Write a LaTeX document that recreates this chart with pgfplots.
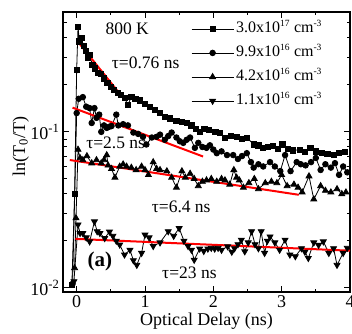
\documentclass[border=0pt]{standalone}
\usepackage{fontspec}
\setmainfont{Liberation Serif}
\usepackage{pgfplots}
\pgfplotsset{compat=1.18}
\newcommand{\sups}[1]{\textsuperscript{\fontsize{9.5}{10}\selectfont #1}}
\begin{document}
\begin{tikzpicture}
\begin{axis}[
  at={(0,0)}, anchor=south west,
  scale only axis, width=287pt, height=280pt,
  ymode=log, xmin=-0.2, xmax=4, ymin=0.0094, ymax=0.587,
  xtick={0,1,2,3,4}, minor xtick={0.5,1.5,2.5,3.5},
  ytick={0.01,0.1}, yticklabels={10\textsuperscript{-2},10\textsuperscript{-1}},
  minor ytick={0.02,0.03,0.04,0.05,0.06,0.07,0.08,0.09,0.2,0.3,0.4,0.5},
  /pgf/number format/assume math mode=true,
  font=\fontsize{18}{21}\selectfont,
  ticklabel style={font=\fontsize{18}{21}\selectfont},
  xlabel={Optical Delay (ns)}, ylabel={ln(T\textsubscript{0}/T)},
  xlabel style={at={(axis description cs:0.5,-0.118)}, anchor=base},
  ylabel style={at={(axis description cs:-0.132,0.521)}, anchor=base},
  axis line style={line width=1.2pt},
  major tick length=6pt, minor tick length=3.5pt,
  every tick/.style={line width=1pt, black},
  legend cell align=left,
  legend style={draw=none, fill=none, at={(axis description cs:0.91,0.976)}, anchor=north east,
    inner sep=0pt, font=\fontsize{16}{18}\selectfont,
    nodes={inner xsep=2pt, inner ysep=2.5pt, text height=11pt, text depth=4pt},
    /tikz/row sep=4pt},
  legend image code/.code={\draw[#1] (0pt,0pt) -- (42pt,0pt); \draw[#1,only marks] plot coordinates {(21pt,0pt)};},
]
% series 1: squares
\addplot[black, line width=0.8pt, mark=square*, mark size=2.6pt] coordinates {
(-0.07,0.0105) (-0.03,0.040) (0.00,0.25) (0.02,0.47) (0.04,0.38) (0.07,0.40) (0.10,0.355)
(0.13,0.33) (0.16,0.30) (0.19,0.31) (0.23,0.27) (0.27,0.255) (0.31,0.24) (0.35,0.235)
(0.40,0.22) (0.45,0.205) (0.50,0.195) (0.55,0.185) (0.60,0.178) (0.65,0.172) (0.70,0.165)
(0.75,0.149) (0.80,0.168) (0.86,0.162) (0.92,0.159) (1.00,0.152) (1.07,0.145) (1.14,0.138)
(1.22,0.132) (1.29,0.125) (1.37,0.122) (1.46,0.118) (1.54,0.116) (1.61,0.114) (1.68,0.110)
(1.75,0.104) (1.80,0.100) (1.87,0.104) (1.93,0.103) (2.03,0.100) (2.10,0.098) (2.17,0.092)
(2.26,0.094) (2.35,0.093) (2.42,0.090) (2.49,0.092) (2.59,0.083) (2.66,0.082) (2.73,0.079)
(2.80,0.080) (2.87,0.081) (2.94,0.078) (3.01,0.083) (3.09,0.078) (3.17,0.076) (3.27,0.077)
(3.34,0.074) (3.42,0.079) (3.50,0.075) (3.59,0.073) (3.67,0.072) (3.76,0.071) (3.84,0.073)
(3.93,0.074)
};
\addlegendentry{3.0x10\sups{17} cm\sups{-3}}
% series 2: circles
\addplot[black, line width=0.8pt, mark=*, mark size=2.8pt] coordinates {
(-0.06,0.0106) (0.00,0.132) (0.03,0.163) (0.09,0.167) (0.14,0.145) (0.19,0.142) (0.22,0.114)
(0.26,0.142) (0.29,0.123) (0.33,0.129) (0.36,0.100) (0.40,0.110) (0.44,0.106) (0.48,0.108)
(0.51,0.109) (0.58,0.129) (0.61,0.110) (0.68,0.112) (0.75,0.110) (0.83,0.099) (0.90,0.097)
(0.97,0.093) (1.02,0.083) (1.10,0.092) (1.17,0.093) (1.22,0.096) (1.29,0.089) (1.34,0.094)
(1.39,0.099) (1.46,0.092) (1.51,0.087) (1.56,0.085) (1.61,0.089) (1.66,0.092) (1.73,0.079)
(1.78,0.085) (1.84,0.080) (1.90,0.079) (1.95,0.082) (2.00,0.077) (2.05,0.073) (2.12,0.075)
(2.20,0.071) (2.29,0.071) (2.36,0.067) (2.42,0.070) (2.49,0.073) (2.55,0.064) (2.59,0.059)
(2.66,0.062) (2.73,0.060) (2.83,0.064) (2.90,0.060) (2.98,0.056) (3.05,0.071) (3.13,0.056)
(3.22,0.064) (3.28,0.062) (3.35,0.061) (3.43,0.064) (3.50,0.068) (3.57,0.057) (3.64,0.062)
(3.72,0.059) (3.78,0.063) (3.84,0.053) (3.90,0.060) (3.96,0.055)
};
\addlegendentry{9.9x10\sups{16} cm\sups{-3}}
% series 3: triangles up
\addplot[black, line width=0.8pt, mark=triangle*, mark size=3.4pt] coordinates {
(-0.03,0.0134) (-0.01,0.028) (0.02,0.077) (0.05,0.068) (0.09,0.066) (0.15,0.070) (0.22,0.063)
(0.29,0.066) (0.36,0.063) (0.40,0.066) (0.44,0.071) (0.46,0.061) (0.51,0.058) (0.56,0.051)
(0.63,0.060) (0.68,0.062) (0.73,0.060) (0.80,0.059) (0.87,0.057) (0.95,0.060) (1.00,0.057)
(1.05,0.053) (1.12,0.064) (1.17,0.058) (1.22,0.057) (1.32,0.056) (1.39,0.051) (1.46,0.044)
(1.54,0.056) (1.59,0.051) (1.66,0.054) (1.72,0.050) (1.78,0.045) (1.84,0.048) (1.90,0.049)
(1.97,0.050) (2.05,0.048) (2.12,0.050) (2.17,0.049) (2.24,0.046) (2.30,0.057) (2.34,0.051)
(2.38,0.049) (2.44,0.044) (2.52,0.047) (2.60,0.050) (2.66,0.043) (2.76,0.047) (2.85,0.048)
(2.93,0.047) (3.00,0.053) (3.08,0.045) (3.18,0.046) (3.24,0.044) (3.30,0.041) (3.40,0.052)
(3.47,0.037) (3.57,0.045) (3.64,0.042) (3.72,0.041) (3.81,0.043) (3.88,0.040) (3.94,0.041)
};
\addlegendentry{4.2x10\sups{16} cm\sups{-3}}
% series 4: triangles down
\addplot[black, line width=0.8pt, mark=triangle*, mark options={rotate=180}, mark size=3.4pt] coordinates {
(-0.04,0.0110) (0.02,0.0254) (0.05,0.0224) (0.09,0.0224) (0.14,0.0210) (0.19,0.0198) (0.26,0.0266)
(0.30,0.0230) (0.34,0.0224) (0.41,0.0208) (0.48,0.0229) (0.53,0.0215) (0.58,0.0200) (0.63,0.0189)
(0.70,0.0163) (0.78,0.0175) (0.83,0.0150) (0.88,0.0140) (0.95,0.0167) (1.00,0.0219) (1.06,0.0210)
(1.12,0.0185) (1.22,0.0195) (1.34,0.0230) (1.42,0.0215) (1.50,0.0241) (1.57,0.0200) (1.63,0.0185)
(1.68,0.0175) (1.72,0.0151) (1.80,0.0178) (1.86,0.0172) (1.92,0.0178) (1.97,0.0180) (2.02,0.0178)
(2.07,0.0180) (2.12,0.0175) (2.21,0.0184) (2.27,0.0170) (2.31,0.0179) (2.36,0.0190) (2.41,0.0203)
(2.46,0.0171) (2.51,0.0195) (2.56,0.0230) (2.61,0.0190) (2.66,0.0179) (2.70,0.0230) (2.75,0.0167)
(2.79,0.0200) (2.83,0.0213) (2.90,0.0195) (2.97,0.0175) (3.05,0.0203) (3.12,0.0163) (3.20,0.0159)
(3.29,0.0179) (3.34,0.0170) (3.39,0.0155) (3.47,0.0195) (3.54,0.0188) (3.61,0.0198) (3.69,0.0167)
(3.76,0.0179) (3.81,0.0140) (3.90,0.0167) (3.96,0.0180)
};
\addlegendentry{1.1x10\sups{16} cm\sups{-3}}
% fits
\addplot[red, line width=2pt, forget plot] coordinates {(0.015,0.38) (0.62,0.178)};
\addplot[red, line width=2pt, forget plot] coordinates {(-0.06,0.143) (1.85,0.0695)};
\addplot[red, line width=2pt, forget plot] coordinates {(-0.1,0.066) (3.25,0.0395)};
\addplot[red, line width=2pt, forget plot] coordinates {(-0.02,0.0206) (4.0,0.0173)};
% annotations
\node[font=\fontsize{17.5}{20}\selectfont] at (axis cs:0.74,0.457) {800 K};
\node[font=\fontsize{17.5}{20}\selectfont] at (axis cs:1.01,0.277) {τ=0.76 ns};
\node[font=\fontsize{17.5}{20}\selectfont] at (axis cs:0.57,0.085) {τ=2.5 ns};
\node[font=\fontsize{17.5}{20}\selectfont] at (axis cs:1.53,0.0332) {τ=6.4 ns};
\node[font=\fontsize{17.5}{20}\selectfont] at (axis cs:1.65,0.01247) {τ=23 ns};
\node[font=\fontsize{21}{24}\selectfont\bfseries] at (axis cs:0.34,0.01476) {(a)};
\end{axis}
\pgfresetboundingbox
\useasboundingbox (-63pt,-41pt) rectangle (289pt,292pt);
\end{tikzpicture}
\end{document}
